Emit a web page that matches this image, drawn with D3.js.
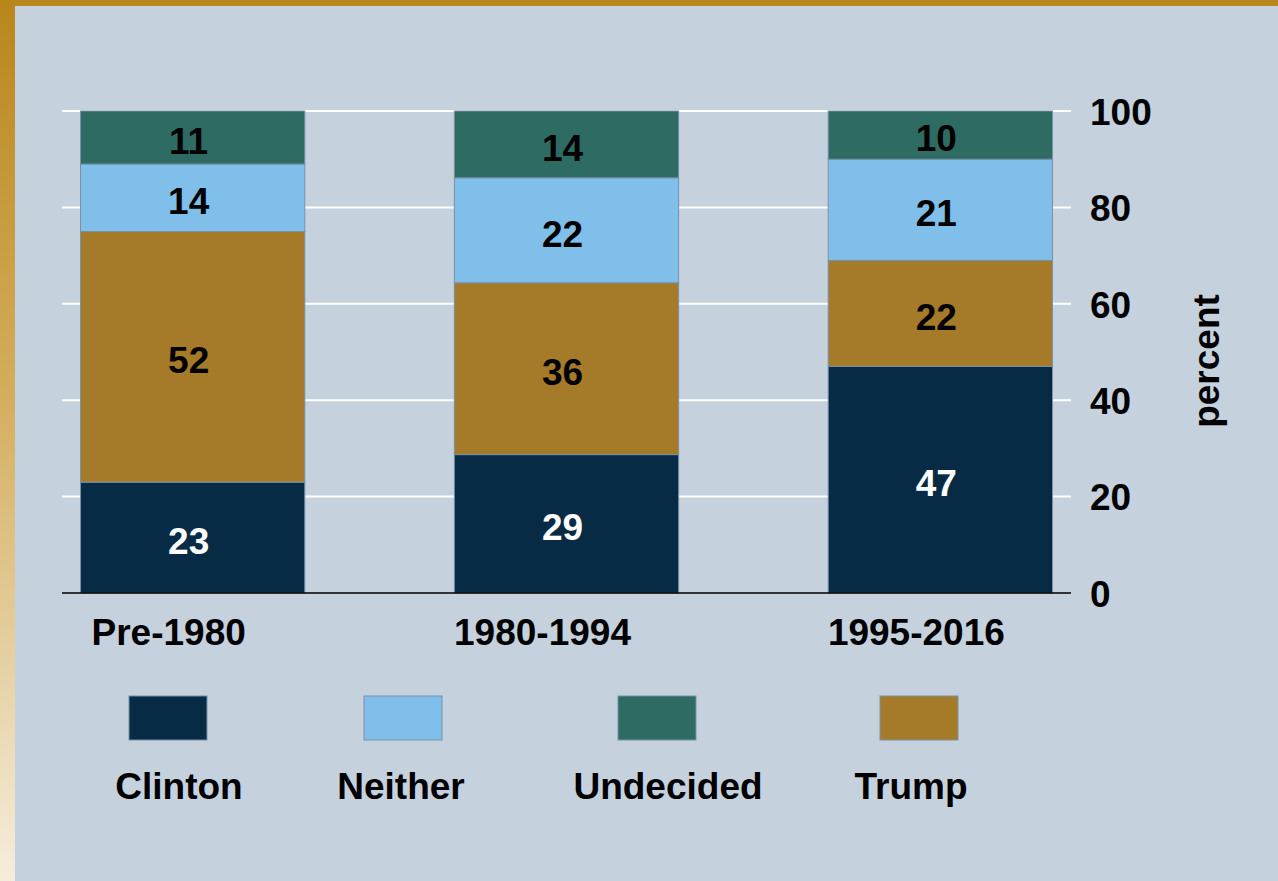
<!DOCTYPE html>
<html>
<head>
<meta charset="utf-8">
<script src="https://cdn.jsdelivr.net/npm/d3@7"></script>
<style>
  html, body { margin: 0; padding: 0; background: #c5d2de; }
  svg { display: block; }
  text { font-family: "Liberation Sans", Arial, sans-serif; font-weight: bold; }
</style>
</head>
<body>
<svg id="chart" width="1278" height="881"></svg>
<script>
// ---- data ----
const categories = ["Pre-1980", "1980-1994", "1995-2016"];
const seriesNames = ["Clinton", "Trump", "Neither", "Undecided"]; // stack order, bottom to top
const clinton   = [23, 29, 47];
const trump     = [52, 36, 22];
const neither   = [14, 22, 21];
const undecided = [11, 14, 10];
const yTicks = [0, 20, 40, 60, 80, 100];
const legendOrder = ["Clinton", "Neither", "Undecided", "Trump"];

// ---- styles / layout ----
const colors = { Clinton: "#072b45", Trump: "#a57a28", Neither: "#80bfea", Undecided: "#2e6b63" };
const labelColors = { Clinton: "#ffffff", Trump: "#000000", Neither: "#000000", Undecided: "#000000" };
const W = 1278, H = 881;
const FS = 37;
const legendSwatchX = [129, 364, 618, 880];
const legendLabelX = [179, 401, 668, 911];

const svg = d3.select("#chart");

// frame
const defs = svg.append("defs");
const grad = defs.append("linearGradient").attr("id", "leftGrad")
  .attr("x1", 0).attr("y1", 0).attr("x2", 0).attr("y2", 1);
grad.append("stop").attr("offset", "0%").attr("stop-color", "#b8861b");
grad.append("stop").attr("offset", "45%").attr("stop-color", "#d4ae5e");
grad.append("stop").attr("offset", "100%").attr("stop-color", "#f5eddc");
svg.append("rect").attr("x", 0).attr("y", 0).attr("width", W).attr("height", H).attr("fill", "#c5d2de");
svg.append("rect").attr("x", 0).attr("y", 0).attr("width", 15).attr("height", H).attr("fill", "url(#leftGrad)");
svg.append("rect").attr("x", 0).attr("y", 0).attr("width", W).attr("height", 6).attr("fill", "#b8861b");

// data table
const table = categories.map((c, i) => ({
  category: c,
  Clinton: clinton[i], Trump: trump[i], Neither: neither[i], Undecided: undecided[i]
}));
const stack = d3.stack().keys(seriesNames).offset(d3.stackOffsetExpand);
const layers = stack(table);

const x = d3.scaleBand().domain(categories).range([80.5, 1052.5]).paddingInner(0.4).paddingOuter(0);
const y = d3.scaleLinear().domain([0, 1]).range([593, 111]);
const yAxisScale = d3.scaleLinear().domain([0, 100]).range([593, 111]);

// gridlines
svg.append("g").selectAll("line").data(yTicks.filter(t => t > 0)).join("line")
  .attr("x1", 62).attr("x2", 1071)
  .attr("y1", d => yAxisScale(d)).attr("y2", d => yAxisScale(d))
  .attr("stroke", "#ffffff").attr("stroke-width", 2);

// bars
const g = svg.append("g");
layers.forEach(layer => {
  g.append("g").selectAll("rect").data(layer).join("rect")
    .attr("x", d => x(d.data.category))
    .attr("width", x.bandwidth())
    .attr("y", d => y(d[1]))
    .attr("height", d => y(d[0]) - y(d[1]))
    .attr("fill", colors[layer.key])
    .attr("stroke", "#7890a8").attr("stroke-width", 1);
});

// value labels
layers.forEach(layer => {
  g.append("g").selectAll("text").data(layer).join("text")
    .attr("x", d => x(d.data.category) + x.bandwidth() / 2 - 4)
    .attr("y", d => (y(d[0]) + y(d[1])) / 2 + 3)
    .attr("dy", "0.36em")
    .attr("text-anchor", "middle")
    .attr("font-size", FS)
    .attr("fill", labelColors[layer.key])
    .text(d => d.data[layer.key]);
});

// baseline
svg.append("line").attr("x1", 62).attr("x2", 1071)
  .attr("y1", yAxisScale(0)).attr("y2", yAxisScale(0))
  .attr("stroke", "#000000").attr("stroke-width", 1.5);

// right axis (labels only)
const yAxis = d3.axisRight(yAxisScale).tickValues(yTicks).tickSize(0).tickPadding(0);
const ya = svg.append("g").attr("transform", "translate(1090,0)").call(yAxis);
ya.select(".domain").remove();
ya.selectAll("text").attr("font-size", FS).attr("fill", "#000").attr("font-family", null)
  .attr("dy", "0.36em");

// axis title
svg.append("text").attr("transform", "translate(1219,361) rotate(-90)")
  .attr("text-anchor", "middle").attr("font-size", FS).attr("fill", "#000").text("percent");

// x axis labels
const xAxis = d3.axisBottom(x).tickSize(0).tickPadding(0);
const xa = svg.append("g").attr("transform", "translate(-24,0)").call(xAxis);
xa.select(".domain").remove();
xa.selectAll("text").attr("font-size", FS).attr("fill", "#000").attr("font-family", null)
  .attr("y", 645).attr("dy", 0);

// legend
const lg = svg.append("g");
legendOrder.forEach((name, i) => {
  lg.append("rect").attr("x", legendSwatchX[i]).attr("y", 696).attr("width", 78).attr("height", 44)
    .attr("fill", colors[name]).attr("stroke", "#7890a8").attr("stroke-width", 1);
  lg.append("text").attr("x", legendLabelX[i]).attr("y", 799)
    .attr("text-anchor", "middle").attr("font-size", FS).attr("fill", "#000").text(name);
});
</script>
</body>
</html>
